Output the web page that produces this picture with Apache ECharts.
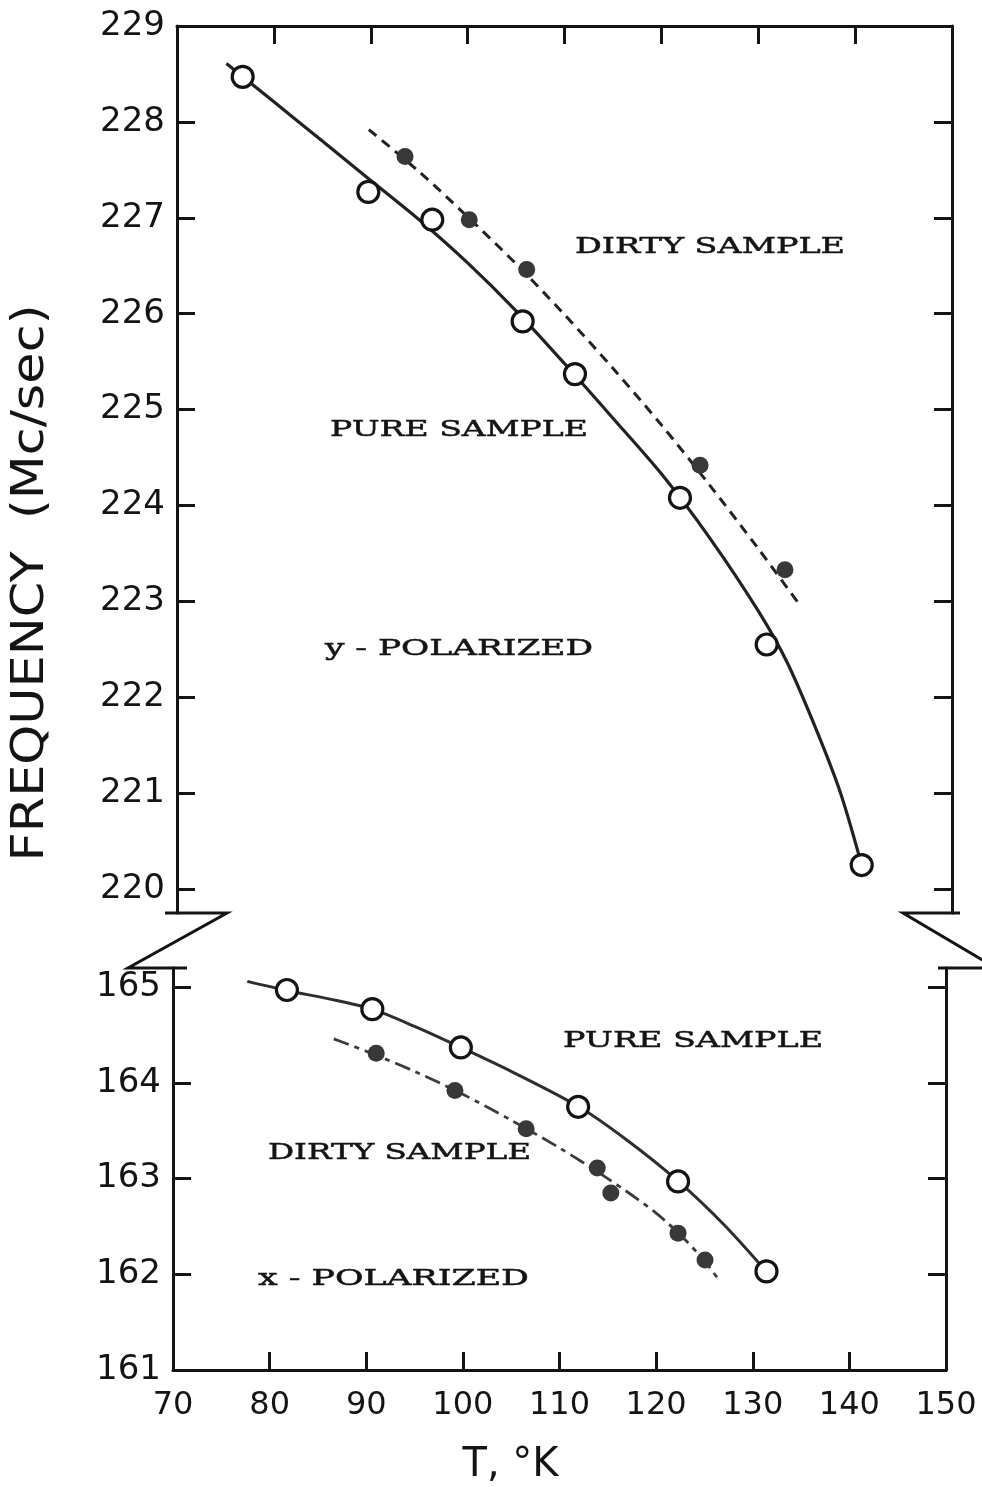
<!DOCTYPE html>
<html>
<head>
<meta charset="utf-8">
<title>Frequency vs temperature</title>
<script src="https://cdn.jsdelivr.net/npm/echarts@6/dist/echarts.min.js"></script>
<style>
  html, body { margin: 0; padding: 0; background: #fff; }
  #chart { width: 982px; height: 1487px; }
</style>
</head>
<body>
<div id="chart"></div>
<script>
// y - polarized, pure sample (open circles) and dirty sample (dots)
var yPureT = [76.78, 89.75, 96.35, 105.68, 111.08, 121.92, 130.87, 140.68]
var yPureF = [228.47, 227.27, 226.98, 225.92, 225.37, 224.08, 222.55, 220.25]
var yDirtyT = [93.54, 100.17, 106.10, 123.99, 132.76]
var yDirtyF = [227.64, 226.98, 226.46, 224.42, 223.33]
// hand drawn curves of the y - polarized set
var yPureCurveT = [75.1, 80, 85, 90, 95, 100, 105, 110, 115, 120, 125, 130, 133, 136, 138.5, 140.68]
var yPureCurveF = [228.61, 228.21, 227.80, 227.39, 226.98, 226.53, 226.03, 225.48, 224.91, 224.33, 223.66, 222.90, 222.36, 221.66, 221.00, 220.25]
var yDirtyCurveT = [89.8, 95, 100, 105, 110, 115, 120, 125, 130, 134.3]
var yDirtyCurveF = [227.92, 227.48, 227.01, 226.52, 225.99, 225.43, 224.84, 224.21, 223.55, 222.96]

// x - polarized
var xPureT = [81.79, 90.63, 99.79, 111.93, 122.27, 131.42]
var xPureF = [164.97, 164.77, 164.37, 163.75, 162.97, 162.03]
var xDirtyT = [91.03, 99.18, 106.55, 113.91, 115.31, 122.27, 125.06]
var xDirtyF = [164.31, 163.92, 163.52, 163.11, 162.85, 162.43, 162.15]
var xPureCurveT = [77.69, 82, 86, 90.6, 95, 99.8, 105, 112, 117, 122.3, 127, 131.4]
var xPureCurveF = [165.06, 164.96, 164.88, 164.77, 164.59, 164.37, 164.12, 163.75, 163.40, 162.97, 162.52, 162.03]
var xDirtyCurveT = [86.64, 90, 95, 100, 105, 110, 115, 120, 123, 125, 126.65]
var xDirtyCurveF = [164.46, 164.33, 164.12, 163.88, 163.61, 163.32, 163.00, 162.64, 162.36, 162.14, 161.92]

// axes
var tempMin = 70, tempMax = 150, tempStep = 10
var upperTicks = [220, 221, 222, 223, 224, 225, 226, 227, 228, 229]
var lowerTicks = [161, 162, 163, 164, 165]
var upperRange = [219.75, 229]
var lowerRange = [161, 165.2]

var INK = '#141414'
var SANS = 'DejaVu Sans'
var SERIF = 'DejaVu Serif'
var gridTop = { left: 177, right: 30, top: 26, height: 887 }
var gridBottom = { left: 173, right: 36, top: 968, height: 402 }

function zip (a, b) {
  return a.map(function (v, i) { return [v, b[i]] })
}

var tick = { inside: true, length: 18, lineStyle: { color: INK, width: 3 } }
var line = { show: true, lineStyle: { color: INK, width: 3 } }

function xAxisFor (gridIndex, position, labels) {
  return {
    gridIndex: gridIndex,
    type: 'value',
    position: position,
    min: tempMin,
    max: tempMax,
    interval: tempStep,
    axisLine: line,
    axisTick: tick,
    splitLine: { show: false },
    axisLabel: { show: labels, fontSize: 32, fontFamily: SANS, color: INK, margin: 20 }
  }
}

function yAxisFor (gridIndex, position, range, ticks) {
  return {
    gridIndex: gridIndex,
    type: 'value',
    position: position,
    min: range[0],
    max: range[1],
    axisLine: line,
    axisTick: Object.assign({ customValues: ticks }, tick),
    splitLine: { show: false },
    axisLabel: {
      show: position === 'left',
      customValues: ticks,
      fontSize: 34,
      fontFamily: SANS,
      color: INK,
      margin: 12
    }
  }
}

var xBottom = xAxisFor(1, 'bottom', true)
xBottom.name = 'T, °K'
xBottom.nameLocation = 'middle'
xBottom.nameGap = 76
xBottom.nameTextStyle = { fontSize: 40, fontFamily: SANS, color: INK, padding: [0, 98, 0, 0] }

function curve (x, y, data, style) {
  return {
    type: 'line', xAxisIndex: x, yAxisIndex: y, data: data,
    smooth: 0.3, showSymbol: false, z: 2,
    lineStyle: style
  }
}
function points (x, y, data, size, itemStyle) {
  return {
    type: 'scatter', xAxisIndex: x, yAxisIndex: y, data: data,
    symbol: 'circle', symbolSize: size, z: 3, itemStyle: itemStyle
  }
}
var openDot = { color: '#fff', borderColor: INK, borderWidth: 3.2, opacity: 1 }
var fullDot = { color: '#383838', opacity: 1 }

var option = {
  backgroundColor: '#fff',
  animation: false,
  grid: [gridTop, gridBottom],
  xAxis: [xAxisFor(0, 'top', false), xBottom],
  yAxis: [
    yAxisFor(0, 'left', upperRange, upperTicks),
    yAxisFor(0, 'right', upperRange, upperTicks),
    yAxisFor(1, 'left', lowerRange, lowerTicks),
    yAxisFor(1, 'right', lowerRange, lowerTicks)
  ],
  series: [
    curve(0, 0, zip(yPureCurveT, yPureCurveF), { color: '#222', width: 3.2 }),
    curve(0, 0, zip(yDirtyCurveT, yDirtyCurveF), { color: '#222', width: 3, type: [10, 7] }),
    points(0, 0, zip(yPureT, yPureF), 21, openDot),
    points(0, 0, zip(yDirtyT, yDirtyF), 17, fullDot),
    curve(1, 2, zip(xPureCurveT, xPureCurveF), { color: '#2e2e2e', width: 3 }),
    curve(1, 2, zip(xDirtyCurveT, xDirtyCurveF), { color: '#3c3c3c', width: 2.8, type: [16, 6, 5, 6] }),
    points(1, 2, zip(xPureT, xPureF), 21, openDot),
    points(1, 2, zip(xDirtyT, xDirtyF), 17, fullDot)
  ]
}

var chart = echarts.init(document.getElementById('chart'), null, { renderer: 'canvas' })
chart.setOption(option)

// wide, letter spaced type of the original: stretch text to the width it takes there
var measure = document.createElement('canvas').getContext('2d')
function stretch (text, font, width) {
  measure.font = font
  return width / measure.measureText(text).width
}
function note (text, left, cy, width) {
  var font = '23px "' + SERIF + '"'
  return {
    type: 'text', x: left, y: cy, scaleX: stretch(text, font, width), z: 10,
    style: { text: text, font: font, fill: INK, stroke: INK, lineWidth: 0.5, align: 'left', verticalAlign: 'middle' }
  }
}

// broken y axis marks, from the grid rects
var wide = chart.getWidth()
var xL = gridTop.left, xR = wide - gridTop.right, yB = gridTop.top + gridTop.height
var xL2 = gridBottom.left, xR2 = wide - gridBottom.right, yT = gridBottom.top
var breakStyle = { stroke: INK, lineWidth: 3, fill: null }

var yName = 'FREQUENCY  (Mc/sec)'
var yFont = '44px "' + SANS + '"'

chart.setOption({
  graphic: [
    { type: 'polyline', shape: { points: [[xL - 12, yB], [xL + 50, yB], [xL2 - 45, yT], [xL2 + 14, yT]] }, style: breakStyle },
    { type: 'polyline', shape: { points: [[xR + 8, yB], [xR - 49, yB], [xR2 + 50, yT], [xR2 - 8, yT]] }, style: breakStyle },
    {
      type: 'text', x: 32, y: 583, rotation: Math.PI / 2, scaleX: stretch(yName, yFont, 557),
      style: { text: yName, font: yFont, fill: INK, align: 'center', verticalAlign: 'middle' }
    },
    note('DIRTY SAMPLE', 575, 247, 270),
    note('PURE SAMPLE', 330, 430, 258),
    note('y - POLARIZED', 325, 649, 268),
    note('PURE SAMPLE', 563, 1041, 260),
    note('DIRTY SAMPLE', 268, 1153, 263),
    note('x - POLARIZED', 258, 1279, 271)
  ]
})
</script>
</body>
</html>
